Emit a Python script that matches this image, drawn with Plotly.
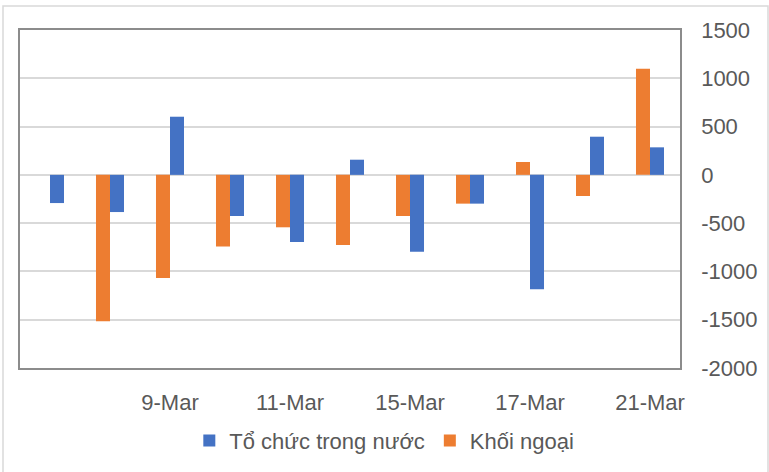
import plotly.graph_objects as go

categories = ["7-Mar", "8-Mar", "9-Mar", "10-Mar", "11-Mar", "14-Mar",
              "15-Mar", "16-Mar", "17-Mar", "18-Mar", "21-Mar"]
to_chuc_trong_nuoc = [-292, -385, 602, -426, -695, 157, -795, -298, -1185, 395, 285]
khoi_ngoai = [0, -1516, -1067, -743, -543, -726, -426, -298, 133, -219, 1099]
tick_labels = ["9-Mar", "11-Mar", "15-Mar", "17-Mar", "21-Mar"]
y_ticks = [1500, 1000, 500, 0, -500, -1000, -1500, -2000]
y_tick_text = ["1500", "1000", "500", "0", "-500", "-1000", "-1500", "-2000"]

BLUE = "#4472C4"
ORANGE = "#ED7D31"
TEXT = "#595959"
FONT = "Liberation Sans, Arial, sans-serif"

fig = go.Figure()
fig.add_trace(go.Bar(x=categories, y=khoi_ngoai, name="Khối ngoại",
                     marker=dict(color=ORANGE, line=dict(width=0))))
fig.add_trace(go.Bar(x=categories, y=to_chuc_trong_nuoc, name="Tổ chức trong nước",
                     marker=dict(color=BLUE, line=dict(width=0))))

fig.update_layout(
    width=769, height=472,
    margin=dict(l=20, r=89, t=30, b=104, autoexpand=False),
    paper_bgcolor="white", plot_bgcolor="white",
    barmode="group", bargap=0.533, bargroupgap=0,
    font=dict(family=FONT, size=22, color=TEXT),
    showlegend=True,
    legend=dict(orientation="h", traceorder="reversed",
                x=0.552, xanchor="center", y=-0.215, yanchor="middle",
                font=dict(family=FONT, size=22, color=TEXT),
                itemwidth=30, bgcolor="rgba(0,0,0,0)"),
    xaxis=dict(type="category", tickmode="array", tickvals=tick_labels, ticktext=tick_labels,
               showgrid=False, ticks="", showline=True, mirror=True, automargin=False,
               linecolor="#8c8c8c", linewidth=1.5, ticklabelstandoff=14,
               tickfont=dict(family=FONT, size=22, color=TEXT)),
    yaxis=dict(side="right", range=[-2000, 1500], tickmode="array",
               tickvals=y_ticks, ticktext=y_tick_text, automargin=False,
               showgrid=True, gridcolor="#D9D9D9", gridwidth=1.5,
               zeroline=True, zerolinecolor="#D9D9D9", zerolinewidth=1.5,
               showline=True, mirror=True, linecolor="#8c8c8c", linewidth=1.5,
               ticks="", ticklabelstandoff=15,
               tickfont=dict(family=FONT, size=22, color=TEXT)),
    shapes=[dict(type="rect", xref="paper", yref="paper",
                 x0=(3 - 20) / 660, x1=(768 - 20) / 660,
                 y0=(368 - 480) / 338, y1=(368 - 6) / 338,
                 line=dict(color="#D9D9D9", width=1.5), fillcolor="rgba(0,0,0,0)",
                 layer="below")],
)

fig.write_html("out.html", config={"displayModeBar": False},
               post_script="document.body.style.margin='0px';document.body.style.padding='0px';")
